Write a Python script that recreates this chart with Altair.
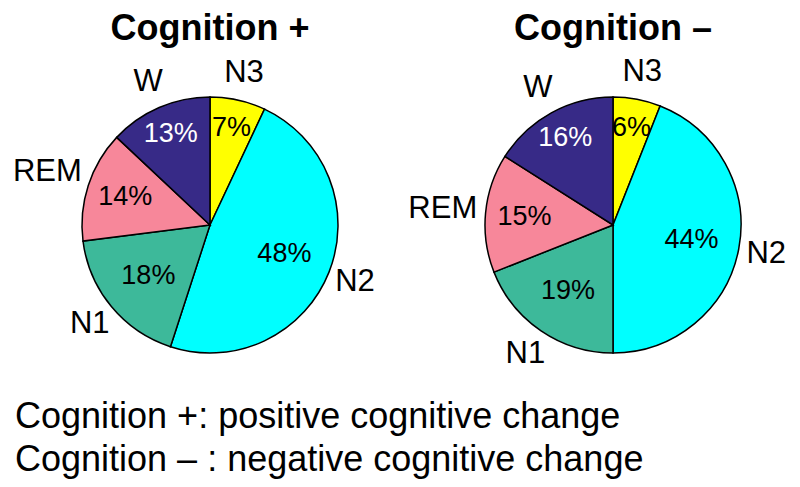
import altair as alt
import pandas as pd

stages = ["N3", "N2", "N1", "REM", "W"]
pct_pos = [7, 48, 18, 14, 13]
pct_neg = [6, 44, 19, 15, 16]
colors = ["#FFFF00", "#00FFFF", "#3DB99A", "#F7879A", "#372A87"]
titles = ["Cognition +", "Cognition \u2013"]
notes = ["Cognition +: positive cognitive change",
         "Cognition \u2013 : negative cognitive change"]

FONT = "Liberation Sans"
TWO_PI = 6.283185307179586
theta_scale = alt.Scale(domain=[0, 100], range=[0, TWO_PI])


def pie(vals, cx, cy, title):
    df = pd.DataFrame({"stage": stages, "pct": vals, "order": list(range(len(stages)))})
    arcs = alt.Chart(df).mark_arc(outerRadius=128, stroke="black", strokeWidth=1.5).encode(
        theta=alt.Theta("pct:Q", stack=True, scale=theta_scale),
        order=alt.Order("order:Q"),
        x=alt.value(cx),
        y=alt.value(cy),
        color=alt.Color("stage:N", scale=alt.Scale(domain=stages, range=colors), legend=None),
    )
    lab = alt.Chart(df).transform_window(
        cum="sum(pct)", sort=[alt.SortField("order")]
    ).transform_calculate(
        mid="datum.cum - datum.pct / 2",
        label="datum.pct + '%'",
        r="(datum.pct < 10 || datum.stage == 'W') ? 99 : (datum.pct < 17 ? 89 : 80)",
        ro="datum.stage == 'REM' ? 171 : 156",
    )
    inner = lab.mark_text(fontSize=27, font=FONT).encode(
        theta=alt.Theta("mid:Q", stack=False, scale=theta_scale),
        x=alt.value(cx),
        y=alt.value(cy),
        text="label:N",
        radius=alt.Radius("r:Q", scale=None),
        color=alt.condition(alt.datum.stage == "W", alt.value("white"), alt.value("black")),
    )
    outer = lab.mark_text(fontSize=31, font=FONT, color="black").encode(
        theta=alt.Theta("mid:Q", stack=False, scale=theta_scale),
        x=alt.value(cx),
        y=alt.value(cy),
        radius=alt.Radius("ro:Q", scale=None),
        text="stage:N",
    )
    ttl = alt.Chart(pd.DataFrame({"t": [title]})).mark_text(
        fontSize=36, fontWeight="bold", font=FONT, baseline="alphabetic", color="black"
    ).encode(text="t:N", x=alt.value(cx), y=alt.value(32))
    return [arcs, inner, outer, ttl]


layers = pie(pct_pos, 202, 217, titles[0]) + pie(pct_neg, 605, 217, titles[1])

note = alt.Chart(pd.DataFrame({"a": [0]})).mark_text(
    fontSize=36, font=FONT, align="left", baseline="alphabetic", lineHeight=43, color="black"
).encode(text=alt.value(notes), x=alt.value(7), y=alt.value(420))

chart = alt.layer(*layers, note).properties(
    width=784, height=471, padding=0, autosize="none"
).configure_view(stroke=None)

chart.save("out.html", embed_options={"renderer": "svg", "actions": False})
